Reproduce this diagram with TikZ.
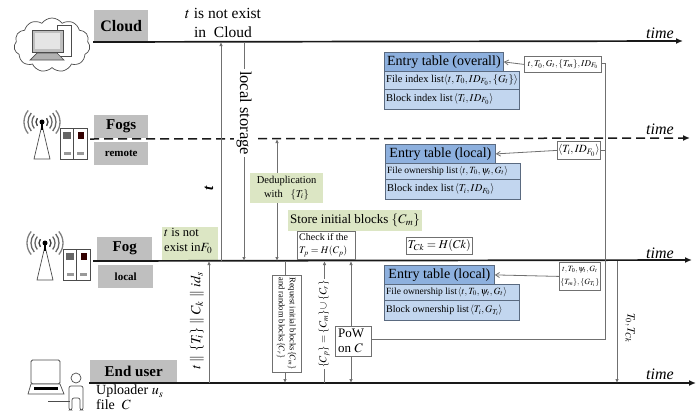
\documentclass[tikz,border=0pt]{standalone}
\usepackage{mathptmx}
\usepackage{fontspec}
\setmainfont{Liberation Serif}
\usetikzlibrary{arrows.meta,shapes.symbols}
\definecolor{lab}{HTML}{BFBFBF}
\definecolor{grn}{HTML}{DCE6C4}
\definecolor{hd}{HTML}{8DB0DE}
\definecolor{row}{HTML}{C2D6EF}
\definecolor{edge}{HTML}{5A6A80}
\definecolor{ln}{HTML}{707070}
\tikzset{
 x=1pt,y=-1pt,
 tip/.style={-{Latex[length=4pt,width=3.5pt]}},
 tips/.style={{Latex[length=4pt,width=3.5pt]}-{Latex[length=4pt,width=3.5pt]}},
 open/.style={-{Straight Barb[length=4pt,width=5pt]}},
 axis/.style={line width=1.7pt,black!90,-{Latex[length=7pt,width=6pt]}},
 seq/.style={line width=.8pt,ln},
 lab/.style={fill=lab,inner sep=0pt,font=\bfseries,anchor=north west},
 grnb/.style={fill=grn,inner sep=0pt,anchor=north west,align=left},
 msg/.style={draw=ln,line width=.8pt,fill=white,inner sep=0pt,anchor=north west,align=center},
 hdb/.style={draw=edge,line width=.8pt,fill=hd,inner sep=0pt,anchor=north west,font=\fontsize{14}{14}\selectfont},
 rowb/.style={draw=edge,line width=.8pt,fill=row,inner sep=0pt,anchor=north west},
 rowt/.style={anchor=west,inner sep=0pt},
 timel/.style={font=\fontsize{16}{16}\selectfont\itshape,anchor=base},
 icon/.style={draw=black!70,line width=.7pt},
}
\newcommand{\fogicon}[2]{%
 \begin{scope}[shift={(#1,#2)}]
  \draw[icon,fill=white] (0,3) -- (-8,37) -- (8,37) -- cycle;
  \fill[black] (0,0) circle (2.5);
  \draw[black,line width=1.2pt] (0,0) -- (0,8);
  \foreach \r/\c in {6/black!75,10/black!60,14/black!60,18/black!50}{
   \draw[\c,line width=1.3pt] (0,0) ++(40:\r) arc[start angle=40,end angle=-40,radius=\r];
   \draw[\c,line width=1.3pt] (0,0) ++(140:\r) arc[start angle=140,end angle=220,radius=\r];
  }
  \draw[icon,fill=white] (18,6) rectangle (45,37);
  \draw[icon] (31.5,6) -- (31.5,37);
  \fill[black!60] (21,10) rectangle (29,17);
  \fill[black!80!red] (36,10) rectangle (42,17);
  \fill[black!40] (22,30) rectangle (29,33);
  \fill[black!40] (35,30) rectangle (42,33);
 \end{scope}}
\begin{document}
\begin{tikzpicture}
\useasboundingbox (0,0) rectangle (700,416);
% ---- icons
\node[cloud,cloud puffs=11,cloud puff arc=110,draw=black!70,line width=.7pt,minimum width=76pt,minimum height=54pt,inner sep=0pt,aspect=1.4] (cloudicon) at (52,45) {};
\draw[icon,fill=white] (57,25) rectangle (71,56);
\draw[icon,fill=black!25] (32,30) rectangle (63,52);
\fill[black!10] (35,33) rectangle (60,49);
\draw[icon,fill=black!30] (37,53) -- (57,53) -- (64,60) -- (30,60) -- cycle;
\fogicon{42}{122}
\fogicon{45}{243}
\draw[icon,line width=.9pt,rounded corners=1.5pt,fill=white] (31,360) rectangle (60,384);
\draw[icon,fill=white] (31,384) -- (60,384) -- (64,394) -- (28,394) -- cycle;
\fill[black] (34,387) rectangle (58,390);
\draw[icon] (76,378) circle (5);
\draw[icon,rounded corners=2pt] (69,410) -- (69,386) -- (83,386) -- (83,410) -- (80,410) -- (80,398) -- (72,398) -- (72,410) -- cycle;
\coordinate (ua) at (48,401); \coordinate (ub) at (70,401);
\draw[icon] (ua) -- (ub);
% ---- green notes
\node[grnb,minimum width=56pt,minimum height=33pt] (notf) at (162,227) {};
\node[anchor=north west,inner sep=0pt,font=\fontsize{12.5}{15}\selectfont,align=left] (notftxt) at (164,228) {$t$ is not\\exist in$F_0$};
\node[grnb,minimum width=134pt,minimum height=21pt] (store) at (288,210) {};
\node[font=\fontsize{13}{15}\selectfont] (storetxt) at (355,220.5) {Store initial blocks $\{C_m\}$};
% ---- gray labels
\node[lab,minimum width=54pt,minimum height=31pt,font=\bfseries\fontsize{16}{16}\selectfont] (cloudl) at (94,10) {Cloud};
\node[lab,minimum width=54pt,minimum height=23pt,font=\bfseries\fontsize{15}{15}\selectfont] (fogsl) at (94,115) {Fogs};
\node[lab,minimum width=54pt,minimum height=23pt,font=\bfseries\fontsize{11}{11}\selectfont] (remotel) at (94,142) {remote};
\node[lab,minimum width=55pt,minimum height=23pt,font=\bfseries\fontsize{15}{15}\selectfont] (fogl) at (97,237) {Fog};
\node[lab,minimum width=55pt,minimum height=23pt,font=\bfseries\fontsize{11}{11}\selectfont] (locall) at (98,265) {local};
\node[lab,minimum width=87pt,minimum height=22pt,font=\bfseries\fontsize{15}{15}\selectfont] (userl) at (90,360) {End user};
% ---- timelines
\coordinate (c0) at (93,42); \coordinate (c1) at (683,41);
\coordinate (f0) at (90,139); \coordinate (f1) at (690,138);
\coordinate (g0) at (93,261); \coordinate (g1) at (692,260);
\coordinate (u0) at (89,383); \coordinate (u1) at (696,383);
\draw[axis] (c0) -- (c1);
\draw[axis,dash pattern=on 9pt off 5pt,line width=1.5pt] (f0) -- (f1);
\draw[axis] (g0) -- (g1);
\draw[axis] (u0) -- (u1);
\foreach \yy/\nn in {38/ta,134/tb,258/tc,379/td}
 \node[timel] (\nn) at (660,\yy) {time};
% ---- texts
\node[font=\fontsize{15.5}{19}\selectfont,align=center] (notcloud) at (223,23) {$t$ is not exist\\in \ Cloud};
\node[anchor=north west,inner sep=0pt,font=\fontsize{14}{15}\selectfont,align=left] (upl) at (96,385) {Uploader $u_s$\\[0pt]file \ $C$};
% ---- sequence verticals
\coordinate (a1) at (209,383); \coordinate (a2) at (209,261);
\draw[seq,tip] (a1) -- (a2);
\node[rotate=90,font=\fontsize{14}{14}\selectfont] (ttl) at (197,321) {$t\parallel\{T_i\}\parallel C_k\parallel id_s$};
\coordinate (b1) at (221,261); \coordinate (b2) at (221,42);
\draw[seq,tip] (b1) -- (b2);
\node[rotate=90,font=\fontsize{15}{15}\selectfont\bfseries\itshape] (tl) at (209,188) {t};
\coordinate (s1) at (244,42); \coordinate (s2) at (244,261);
\draw[seq,tip] (s1) -- (s2);
\node[rotate=-90,fill=white,inner sep=2pt,font=\fontsize{16.5}{16.5}\selectfont] (lsl) at (244,113) {local storage};
\coordinate (d1) at (277,261); \coordinate (d2) at (277,139);
\draw[seq,tips] (d1) -- (d2);
\node[grnb,minimum width=73pt,minimum height=30pt] (dedup) at (250,173) {};
\node[font=\fontsize{10.5}{14}\selectfont,align=center] (deduptxt) at (286.5,188) {Deduplication\\with \ \ $\{T_i\}$};
\coordinate (r1) at (285,261); \coordinate (r2) at (285,383);
\draw[seq,tip] (r1) -- (r2);
\node[msg,minimum width=29pt,minimum height=97pt] (req) at (272,275) {};
\node[rotate=-90,font=\fontsize{8.5}{11}\selectfont,align=left] (reqt) at (286.5,323.5) {Request initial blocks$\{C_m\}$\\and random blocks$\{C_r\}$};
\coordinate (p1) at (324.5,383); \coordinate (p2) at (324.5,261);
\draw[seq,tip] (p1) -- (p2);
\node[rotate=90,fill=white,inner sep=1pt,font=\fontsize{10.5}{10.5}\selectfont] (cpl) at (324,324) {$\{C_p\}=\{C_m\}\cup\{C_r\}$};
\coordinate (w1) at (351,383); \coordinate (w2) at (351,261);
\draw[seq,tips] (w1) -- (w2);
\node[msg,minimum width=36pt,minimum height=30pt] (pow) at (335,326) {};
\node[anchor=west,inner sep=0pt,font=\fontsize{13}{15}\selectfont,align=left] (powt) at (338,341) {PoW\\on $C$};
\node[msg,minimum width=58pt,minimum height=28pt] (check) at (297,231) {};
\node[anchor=west,inner sep=0pt,font=\fontsize{10}{13.5}\selectfont,align=left] (checkt) at (299,245) {Check if the\\$T_p=H(C_p)$};
\node[msg,minimum width=66pt,minimum height=17pt,font=\fontsize{12}{12}\selectfont] (tck) at (406,237) {$T_{Ck}=H(Ck)$};
% ---- entry tables
\node[rowb,minimum width=135pt,minimum height=18pt] (r1a) at (384,71) {};
\node[rowt,font=\fontsize{10.5}{12}\selectfont] (r1at) at (386,80) {File index list$\langle t,T_0,ID_{F_0},\{G_t\}\rangle$};
\node[rowb,minimum width=135pt,minimum height=20pt] (r1b) at (384,89) {};
\node[rowt,font=\fontsize{10.5}{12}\selectfont] (r1bt) at (386,99) {Block index list$\,\langle T_i,ID_{F_0}\rangle$};
\node[hdb,minimum width=119pt,minimum height=19pt] (e1) at (384,52) {Entry table (overall)};
\node[rowb,minimum width=135pt,minimum height=16pt] (r2a) at (385,163) {};
\node[rowt,font=\fontsize{9.5}{11}\selectfont] (r2at) at (387,171) {File ownership list$\,\langle t,T_0,\psi_t,G_t\rangle$};
\node[rowb,minimum width=135pt,minimum height=20pt] (r2b) at (385,179) {};
\node[rowt,font=\fontsize{10.5}{12}\selectfont] (r2bt) at (387,189.5) {Block index list$\,\langle T_i,ID_{F_0}\rangle$};
\node[hdb,minimum width=110pt,minimum height=19pt] (e2) at (385,144) {Entry table (local)};
\node[rowb,minimum width=135pt,minimum height=16pt] (r3a) at (384,284) {};
\node[rowt,font=\fontsize{9.5}{11}\selectfont] (r3at) at (386,292) {File ownership list$\,\langle t,T_0,\psi_t,G_t\rangle$};
\node[rowb,minimum width=135pt,minimum height=20pt] (r3b) at (384,300) {};
\node[rowt,font=\fontsize{10}{12}\selectfont] (r3bt) at (386,310.5) {Block ownership list$\,\langle T_i,G_{T_i}\rangle$};
\node[hdb,minimum width=110pt,minimum height=19pt] (e3) at (384,265) {Entry table (local)};
% ---- message boxes
\node[msg,minimum width=77pt,minimum height=16pt,font=\fontsize{9}{9}\selectfont] (m1) at (524,56) {$t,T_0,G_t,\{T_m\},ID_{F_0}$};
\node[msg,minimum width=43pt,minimum height=18pt,font=\fontsize{11}{11}\selectfont] (m2) at (557,141) {$\langle T_i,ID_{F_0}\rangle$};
\node[msg,minimum width=41pt,minimum height=28pt,font=\fontsize{8}{13}\selectfont] (m3) at (559,262) {$t,T_0,\psi_t,G_t$\\$\{T_m\},\{G_{T_i}\}$};
\draw[seq,open] (m1.west) -- (e1.east);
\draw[seq,open] (m2.west) -- (e2.east);
\draw[seq,open] (m3.west) -- (e3.east);
\coordinate (bus1) at (605,339); \coordinate (bus2) at (605,63);
\draw[seq] (pow.east |- bus1) -- (bus1) -- (bus2) -- (m1.east |- bus2);
\coordinate (bus3) at (605,150);
\draw[seq] (bus3) -- (m2.east |- bus3);
\coordinate (k1) at (617,261); \coordinate (k2) at (617,383);
\draw[seq,tip] (k1) -- (k2);
\node[rotate=-90,font=\fontsize{11}{11}\selectfont] (kl) at (630,328) {$T_0,T_{Ck}$};
\end{tikzpicture}
\end{document}
